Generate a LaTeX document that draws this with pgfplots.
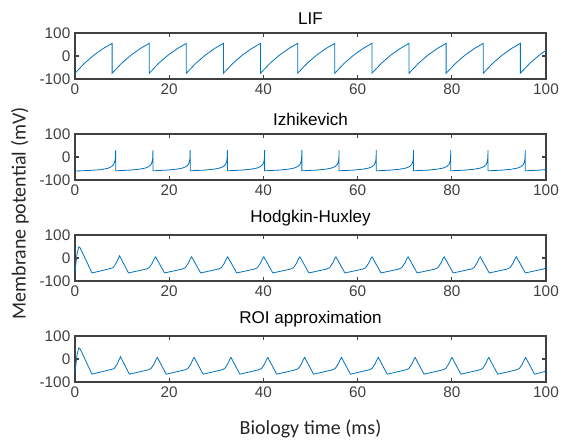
\documentclass[border=0pt]{standalone}
\usepackage{fontspec}
\setmainfont{Liberation Sans}
\newfontfamily\labelfont{Carlito}
\usepackage{pgfplots}
\pgfplotsset{compat=1.18}
\definecolor{mblue}{HTML}{0072BD}
\definecolor{axgray}{HTML}{404040}

% shared look of the four panels (sizes in px * 0.75pt)
\pgfplotsset{
  panel/.style={
    scale only axis, width=353.25pt, height=34.5pt,
    xmin=0, xmax=100, ymin=-100, ymax=100,
    xtick={0,20,40,60,80,100}, ytick={-100,0,100},
    xtick pos=both, ytick pos=both, tick align=inside,
    major tick length=3pt,
    axis line style={axgray, line width=0.9pt},
    every tick/.style={axgray, line width=0.9pt},
    ticklabel style={font=\fontsize{11.5}{13}\selectfont, text=axgray},
    /pgf/number format/assume math mode=true,
    title style={font=\fontsize{12.8}{14}\selectfont, yshift=-3pt},
  },
  trace/.style={mblue, line width=0.6pt, no markers},
}

\begin{document}
\begin{tikzpicture}
% LIF
\begin{axis}[panel, at={(56.25pt,-59.25pt)}, anchor=south west, title={LIF}]
\addplot[trace] coordinates {
(0,-75)(2,-31.8)(4,3.6)(6,32.6)(7.88,55)
(7.88,-75)(9.88,-31.8)(11.88,3.6)(13.88,32.6)(15.76,55)
(15.76,-75)(17.76,-31.8)(19.76,3.6)(21.76,32.6)(23.64,55)
(23.64,-75)(25.64,-31.8)(27.64,3.6)(29.64,32.6)(31.52,55)
(31.52,-75)(33.52,-31.8)(35.52,3.6)(37.52,32.6)(39.40,55)
(39.40,-75)(41.40,-31.8)(43.40,3.6)(45.40,32.6)(47.28,55)
(47.28,-75)(49.28,-31.8)(51.28,3.6)(53.28,32.6)(55.16,55)
(55.16,-75)(57.16,-31.8)(59.16,3.6)(61.16,32.6)(63.04,55)
(63.04,-75)(65.04,-31.8)(67.04,3.6)(69.04,32.6)(70.92,55)
(70.92,-75)(72.92,-31.8)(74.92,3.6)(76.92,32.6)(78.80,55)
(78.80,-75)(80.80,-31.8)(82.80,3.6)(84.80,32.6)(86.68,55)
(86.68,-75)(88.68,-31.8)(90.68,3.6)(92.68,32.6)(94.56,55)
(94.56,-75)(96.56,-31.8)(98.56,3.6)(100,24.5)
};
\end{axis}
% Izhikevich
\begin{axis}[panel, at={(56.25pt,-135pt)}, anchor=south west, title={Izhikevich}]
\addplot[trace] coordinates {
(0,-61)(3,-58.5)(5.5,-55)(7,-49)(7.75,-42)(8.2,-33)(8.45,-20)(8.57,-5)(8.64,30)
(8.64,-60)(11.64,-57)(13.64,-53)(14.94,-48)(15.64,-42)(16.14,-33)(16.39,-20)(16.49,-5)(16.55,30)
(16.55,-60)(19.55,-57)(21.55,-53)(22.85,-48)(23.55,-42)(24.05,-33)(24.30,-20)(24.40,-5)(24.45,30)
(24.45,-60)(27.45,-57)(29.45,-53)(30.75,-48)(31.45,-42)(31.95,-33)(32.20,-20)(32.30,-5)(32.36,30)
(32.36,-60)(35.36,-57)(37.36,-53)(38.66,-48)(39.36,-42)(39.86,-33)(40.11,-20)(40.21,-5)(40.26,30)
(40.26,-60)(43.26,-57)(45.26,-53)(46.56,-48)(47.26,-42)(47.76,-33)(48.01,-20)(48.11,-5)(48.17,30)
(48.17,-60)(51.17,-57)(53.17,-53)(54.47,-48)(55.17,-42)(55.67,-33)(55.92,-20)(56.02,-5)(56.07,30)
(56.07,-60)(59.07,-57)(61.07,-53)(62.37,-48)(63.07,-42)(63.57,-33)(63.82,-20)(63.92,-5)(63.98,30)
(63.98,-60)(66.98,-57)(68.98,-53)(70.28,-48)(70.98,-42)(71.48,-33)(71.73,-20)(71.83,-5)(71.88,30)
(71.88,-60)(74.88,-57)(76.88,-53)(78.18,-48)(78.88,-42)(79.38,-33)(79.63,-20)(79.73,-5)(79.79,30)
(79.79,-60)(82.79,-57)(84.79,-53)(86.09,-48)(86.79,-42)(87.29,-33)(87.54,-20)(87.64,-5)(87.69,30)
(87.69,-60)(90.69,-57)(92.69,-53)(93.99,-48)(94.69,-42)(95.19,-33)(95.44,-20)(95.54,-5)(95.60,30)
(95.60,-60)(98.60,-57)(100,-54.5)
};
\end{axis}
% Hodgkin-Huxley
\begin{axis}[panel, at={(56.25pt,-210.75pt)}, anchor=south west, title={Hodgkin-Huxley}]
\addplot[trace] coordinates {
(0,-58)(0.45,20)(0.8,48)(1.1,44)(3.6,-65)(7.1,-48)
(8.10,-42)(8.75,-22)(9.20,-2)(9.45,10)(11.35,-65)(15.15,-48)
(15.76,-42)(16.41,-22)(16.86,-2)(17.11,5)(19.01,-65)(22.81,-48)
(23.42,-42)(24.07,-22)(24.52,-2)(24.77,5)(26.67,-65)(30.47,-48)
(31.08,-42)(31.73,-22)(32.18,-2)(32.43,5)(34.33,-65)(38.13,-48)
(38.74,-42)(39.39,-22)(39.84,-2)(40.09,5)(41.99,-65)(45.79,-48)
(46.40,-42)(47.05,-22)(47.50,-2)(47.75,5)(49.65,-65)(53.45,-48)
(54.06,-42)(54.71,-22)(55.16,-2)(55.41,5)(57.31,-65)(61.11,-48)
(61.72,-42)(62.37,-22)(62.82,-2)(63.07,5)(64.97,-65)(68.77,-48)
(69.38,-42)(70.03,-22)(70.48,-2)(70.73,5)(72.63,-65)(76.43,-48)
(77.04,-42)(77.69,-22)(78.14,-2)(78.39,5)(80.29,-65)(84.09,-48)
(84.70,-42)(85.35,-22)(85.80,-2)(86.05,5)(87.95,-65)(91.75,-48)
(92.36,-42)(93.01,-22)(93.46,-2)(93.71,5)(95.61,-65)(99.41,-48)(100,-43)
};
\end{axis}
% ROI approximation
\begin{axis}[panel, at={(56.25pt,-286.5pt)}, anchor=south west, title={ROI approximation},
  xlabel={Biology time (ms)},
  xlabel style={font=\labelfont\fontsize{15}{17}\selectfont, text=black!85, yshift=-10pt}]
\addplot[trace] coordinates {
(0,-58)(0.45,20)(0.8,48)(1.1,44)(3.6,-66)(7.2,-48)
(8.30,-42)(8.95,-22)(9.40,-2)(9.65,10)(11.55,-66)(15.35,-48)
(16.12,-42)(16.77,-22)(17.22,-2)(17.47,7)(19.37,-66)(23.17,-48)
(23.94,-42)(24.59,-22)(25.04,-2)(25.29,7)(27.19,-66)(30.99,-48)
(31.76,-42)(32.41,-22)(32.86,-2)(33.11,7)(35.01,-66)(38.81,-48)
(39.58,-42)(40.23,-22)(40.68,-2)(40.93,7)(42.83,-66)(46.63,-48)
(47.40,-42)(48.05,-22)(48.50,-2)(48.75,7)(50.65,-66)(54.45,-48)
(55.22,-42)(55.87,-22)(56.32,-2)(56.57,7)(58.47,-66)(62.27,-48)
(63.04,-42)(63.69,-22)(64.14,-2)(64.39,7)(66.29,-66)(70.09,-48)
(70.86,-42)(71.51,-22)(71.96,-2)(72.21,7)(74.11,-66)(77.91,-48)
(78.68,-42)(79.33,-22)(79.78,-2)(80.03,7)(81.93,-66)(85.73,-48)
(86.50,-42)(87.15,-22)(87.60,-2)(87.85,7)(89.75,-66)(93.55,-48)
(94.32,-42)(94.97,-22)(95.42,-2)(95.67,7)(97.57,-66)(100,-53)
};
\end{axis}
% shared y label
\node[rotate=90, font=\labelfont\fontsize{15}{17}\selectfont, text=black!85]
  at (15pt,-160pt) {Membrane potential (mV)};
\pgfresetboundingbox
\path (0,0) rectangle (420.75pt,-332.25pt);
\end{tikzpicture}
\end{document}
